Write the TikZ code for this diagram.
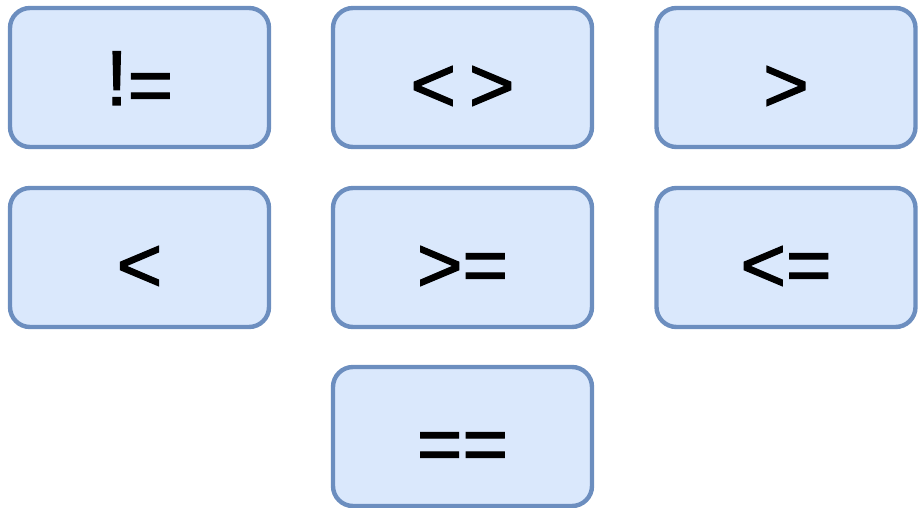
\documentclass[tikz,border=0pt]{standalone}
\usepackage{fontspec}
\setmainfont{Liberation Sans}
\newfontfamily\opfont{Liberation Sans}[FakeBold=1.5]
\newcommand\lowr[1]{\raisebox{-0.085em}{#1}}
\definecolor{boxfill}{HTML}{DAE8FC}
\definecolor{boxline}{HTML}{6C8EBF}
\begin{document}
\begin{tikzpicture}[x=1pt,y=-1pt,
  opbox/.style={draw=boxline, fill=boxfill, line width=4.4pt, rounded corners=20pt,
    minimum width=259pt, minimum height=139pt, inner sep=0pt},
  optext/.style={font=\opfont\fontsize{78}{80}\selectfont, text=black, inner sep=0pt, anchor=base}]
\useasboundingbox (0,0) rectangle (920,508);
\node[opbox] (ne) at (139.5,77.5) {};
\node[opbox] (ltgt) at (462.5,77.5) {};
\node[opbox] (gt) at (786,77.5) {};
\node[opbox] (lt) at (139.5,257.5) {};
\node[opbox] (ge) at (462.5,257.5) {};
\node[opbox] (le) at (786,257.5) {};
\node[opbox] (eq) at (462.5,436.5) {};
\node[optext] at ([yshift=-27.5pt]ne.center) {!\lowr{=}};
\node[optext] at ([yshift=-27.5pt]ltgt.center) {\lowr{<\,>}};
\node[optext] at ([yshift=-27.5pt]gt.center) {\lowr{>}};
\node[optext] at ([yshift=-27.5pt]lt.center) {\lowr{<}};
\node[optext] at ([yshift=-27.5pt]ge.center) {\lowr{>=}};
\node[optext] at ([yshift=-27.5pt]le.center) {\lowr{<=}};
\node[optext] at ([yshift=-27.5pt]eq.center) {\lowr{==}};
\end{tikzpicture}
\end{document}
